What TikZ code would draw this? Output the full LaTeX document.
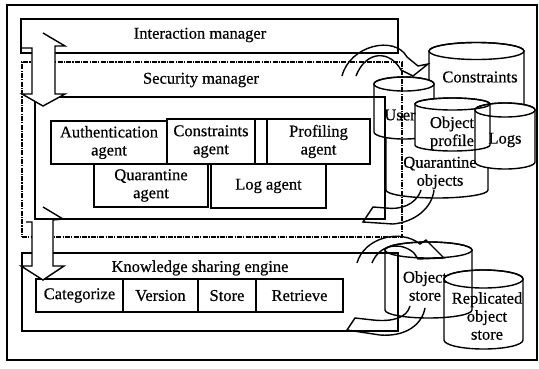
\documentclass[tikz,border=0pt]{standalone}
\usepackage{fontspec}
\setmainfont[FakeBold=0.5]{Liberation Serif}
\usepackage{tikz}

% drum: [options] centre x, half width, top y, bottom y, rim
\newcommand{\drum}[6][]{%
  \filldraw[fill=white, #1] (#2-#3,#4) -- (#2-#3,#5)
    arc[start angle=180, end angle=360, x radius=#3pt, y radius=#6pt]
    -- (#2+#3,#4)
    arc[start angle=0, end angle=180, x radius=#3pt, y radius=#6pt] -- cycle;
  \draw[#1] (#2,#4) ellipse[x radius=#3pt, y radius=#6pt];
}

\begin{document}
\begin{tikzpicture}[x={(1pt,0pt)}, y={(0pt,-1pt)}, line width=1.4pt,
    every node/.style={font=\fontsize{16.5}{18}\selectfont, align=center},
    box/.style={draw, rectangle, inner sep=0pt},
    dashdot/.style={line width=1.6pt, dash pattern=on 5pt off 1.2pt on 1.2pt off 1.2pt}]
  \useasboundingbox (0,0) rectangle (539,368);
  \draw (7,5) rectangle (537,360);

  % stores
  \drum{476.5}{47.5}{51}{125}{8.5}
  \drum{437}{51}{120}{190}{8}
  \drum{404}{30}{84}{132}{7}
  \drum[draw=none]{452.5}{37.5}{104}{145}{6}
  \drum[draw=none]{505}{30}{110}{162}{7}
  \drum[fill=none]{452.5}{37.5}{104}{145}{6}
  \drum[fill=none]{505}{30}{110}{162}{7}
  \drum[fill=none]{428.5}{43.5}{250}{310}{8}
  \drum[fill=none]{483.5}{39.5}{279}{340}{9}
  \node (cons) at (480,77) {Constraints};
  \node (user) at (400,115) {User};
  \node (objprof) at (452,133) {Object\\profile};
  \node (logs) at (505,140) {Logs};
  \node (quarobj) at (440,173) {Quarantine\\objects};
  \node (objstore) at (425,286) {Object\\store};
  \node (repl) at (487,316) {Replicated\\object\\store};

  % managers and agents
  \node[box, dashdot, minimum width=380pt, minimum height=175pt] (secmgr) at (212,149.5) {};
  \node[box, minimum width=377pt, minimum height=34pt] (intmgr) at (209.5,36) {};
  \node (intlabel) at (200,35) {Interaction manager};
  \node (seclabel) at (201,80) {Security manager};
  \node[box, minimum width=350pt, minimum height=122pt] (secin) at (210,158) {};
  \node[box, minimum width=116pt, minimum height=43pt] (auth) at (109,142.5) {Authentication\\agent};
  \node[box, minimum width=88pt, minimum height=45pt] (consag) at (211,141.5) {Constraints\\agent};
  \draw (255,119) rectangle (267,164);
  \node[box, minimum width=103pt, minimum height=45pt] (prof) at (318.5,141.5) {Profiling\\agent};
  \node[box, minimum width=114pt, minimum height=43pt] (quar) at (151,185.5) {Quarantine\\agent};
  \node[box, minimum width=115pt, minimum height=44pt] (logag) at (268.5,186) {Log agent};
  \node[box, minimum width=376pt, minimum height=78pt] (kse) at (210,292) {};
  \node (kselabel) at (200,268) {Knowledge sharing engine};
  \node[box, minimum width=87pt, minimum height=33pt] (cat) at (79.5,295.5) {Categorize};
  \node[box, minimum width=75pt, minimum height=33pt] (ver) at (160.5,295.5) {Version};
  \node[box, minimum width=58pt, minimum height=33pt] (store) at (227,295.5) {Store};
  \node[box, minimum width=87pt, minimum height=33pt] (retr) at (299.5,295.5) {Retrieve};

  % block arrows on the left
  \fill[white] (32,48) -- (32,94) -- (22,94) -- (43,106) -- (65,94) -- (55,94) -- (55,46) -- cycle;
  \draw (43,33) -- (65,46) -- (55,46) -- (55,94) -- (65,94) -- (43,106) -- (22,94) -- (32,94) -- (32,48) -- (21,48);
  \fill[white] (32,221) -- (32,266) -- (21,266) -- (43,280) -- (64,266) -- (53,266) -- (53,221) -- cycle;
  \draw (43,207) -- (63,219) -- (53,220) -- (53,266) -- (64,266) -- (43,280) -- (21,266) -- (32,266) -- (32,222) -- (26,222);

  % curved arrows to and from the stores
  \draw (342,76) .. controls (350,45) and (395,35) .. (407,57) -- (418,66) -- (428,64) -- (413,76) -- (401,70)
    .. controls (390,50) and (366,50) .. (356,76);
  \draw (421,190) .. controls (416,205) and (400,210) .. (386,208) -- (373,207) -- (363,222) -- (393,224)
    .. controls (415,222) and (432,208) .. (434,190);
  \draw (357,263) .. controls (364,238) and (400,228) .. (420,244) -- (426,240) -- (444,258) -- (418,259) -- (414,253)
    .. controls (402,242) and (380,243) .. (372,263);
  \draw (410,306) .. controls (407,318) and (392,322) .. (373,320) -- (355,318) -- (347,330) -- (380,335)
    .. controls (405,337) and (422,325) .. (425,308);
\end{tikzpicture}
\end{document}
